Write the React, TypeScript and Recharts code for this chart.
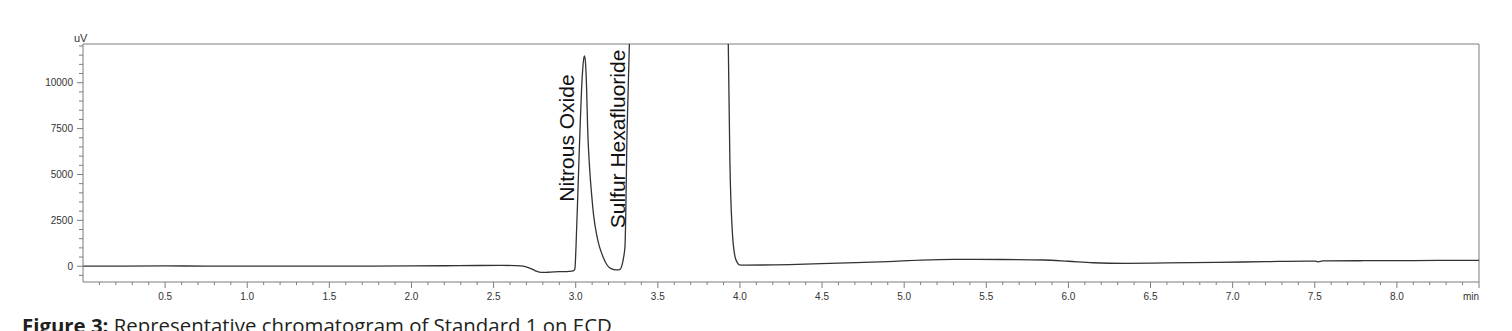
import React from "react";
import { LineChart, Line, XAxis, YAxis, ReferenceLine, ReferenceDot } from "recharts";

// Retention time (min) and detector signal (uV)
const TIME_MIN = [
  0, 0.25, 0.5, 0.75, 1.0, 1.25, 1.5, 1.75, 2.0, 2.2,
  2.4, 2.55, 2.63, 2.68, 2.72, 2.755, 2.79, 2.83, 2.9, 2.96,
  2.985, 2.995, 3.002, 3.015, 3.026, 3.036, 3.044, 3.052, 3.058, 3.066,
  3.073, 3.085, 3.097, 3.11, 3.128, 3.145, 3.168, 3.19, 3.215, 3.25,
  3.27, 3.283, 3.292, 3.3, 3.313, 3.327, 3.345, 3.5, 3.7, 3.9,
  3.92, 3.929, 3.939, 3.953, 3.97, 3.985, 3.996, 4.03, 4.3, 4.6,
  4.9, 5.1, 5.3, 5.6, 5.85, 6.0, 6.15, 6.35, 6.6, 6.9,
  7.2, 7.45, 7.5, 7.52, 7.55, 7.8, 8.1, 8.5,
];
const SIGNAL_UV = [
  0, 5, 15, 10, 10, 5, 10, 10, 15, 25,
  40, 45, 30, 0, -100, -250, -340, -330, -300, -280,
  -250, -150, 1100, 4500, 7420, 9700, 10900, 11460, 11250, 9800,
  7420, 5300, 3900, 2700, 1700, 1050, 480, 80, -130, -200,
  -170, 100, 500, 1070, 7420, 12200, 16000, 16000, 16000, 16000,
  16000, 12100, 5620, 1980, 520, 180, 70, 60, 90, 170,
  250, 330, 370, 365, 340, 270, 190, 160, 180, 210,
  250, 280, 280, 240, 290, 300, 310, 320,
];

const Y_DOMAIN: [number, number] = [-860, 12110];
const X_DOMAIN: [number, number] = [0, 8.5];
const Y_MAJOR_STEP = 2500;
const Y_TICKS = Array.from({ length: 26 }, (_, i) => -500 + i * 500);
const X_TICKS = Array.from({ length: 85 }, (_, i) => (i + 1) / 10);
const X_UNIT = "min";
const Y_UNIT = "uV";

const PEAK_NAMES = ["Nitrous Oxide", "Sulfur Hexafluoride"];
const PEAK_LABEL_T = [2.99, 3.3];
const PEAK_LABEL_V = [3520, 2070];

const CAPTION_BOLD = "Figure 3:";
const CAPTION_TEXT = " Representative chromatogram of Standard 1 on ECD";

const data = TIME_MIN.map((t, i) => ({ t, v: SIGNAL_UV[i] }));

const AXIS = "#7d7d7d";
const FONT = "'Liberation Sans', Arial, sans-serif";

const YTick = (props: any) => {
  const { x, y, payload } = props;
  const v = payload.value;
  const major = v % Y_MAJOR_STEP === 0;
  return (
    <g>
      <line x1={x - (major ? 6 : 4)} x2={x} y1={y} y2={y} stroke={AXIS} strokeWidth={1} />
      {major && (
        <text x={x - 10} y={y} dy="0.35em" textAnchor="end" fontSize={10} fill="#333" fontFamily={FONT}>
          {v}
        </text>
      )}
    </g>
  );
};

const XTick = (props: any) => {
  const { x, y, payload } = props;
  const v = payload.value;
  const tenths = Math.round(v * 10);
  const major = tenths % 5 === 0;
  const isLast = tenths === 85;
  return (
    <g>
      <line x1={x} x2={x} y1={y} y2={y + (major ? 6 : 3)} stroke={AXIS} strokeWidth={1} />
      {major && (
        <text
          x={x}
          y={y + 18}
          textAnchor={isLast ? "end" : "middle"}
          fontSize={10}
          fill="#333"
          fontFamily={FONT}
        >
          {isLast ? X_UNIT : v.toFixed(1)}
        </text>
      )}
    </g>
  );
};

const makePeakLabel = (name: string) => (props: any) => {
  const { cx, cy } = props;
  return (
    <text
      x={cx}
      y={cy}
      transform={`rotate(-90 ${cx} ${cy})`}
      textAnchor="start"
      fontSize={21}
      fill="#111"
      fontFamily={FONT}
    >
      {name}
    </text>
  );
};

export default function App() {
  return (
    <div
      style={{
        position: "fixed",
        left: 0,
        top: 0,
        width: 1512,
        height: 331,
        overflow: "hidden",
        background: "#fff",
      }}
    >
      <LineChart
        width={1512}
        height={331}
        data={data}
        margin={{ top: 44, right: 33, bottom: 19, left: 0 }}
      >
        <XAxis
          dataKey="t"
          type="number"
          domain={X_DOMAIN}
          ticks={X_TICKS}
          interval={0}
          height={30}
          tickSize={0}
          tickMargin={0}
          tickLine={false}
          tick={<XTick />}
          axisLine={{ stroke: AXIS }}
          allowDataOverflow
        />
        <YAxis
          type="number"
          domain={Y_DOMAIN}
          ticks={Y_TICKS}
          interval={0}
          width={83}
          tickSize={0}
          tickMargin={0}
          tickLine={false}
          tick={<YTick />}
          axisLine={{ stroke: AXIS }}
          allowDataOverflow
          label={{
            content: (p: any) => {
              const vb = p.viewBox || {};
              return (
                <text x={vb.x + vb.width - 9} y={vb.y - 2} fontSize={11} fill="#333" fontFamily={FONT}>
                  {Y_UNIT}
                </text>
              );
            },
          }}
        />
        <ReferenceLine y={Y_DOMAIN[1]} stroke={AXIS} ifOverflow="visible" />
        <ReferenceLine x={X_DOMAIN[1]} stroke={AXIS} ifOverflow="visible" />
        <Line
          type="monotone"
          dataKey="v"
          stroke="#333"
          strokeWidth={1.3}
          dot={false}
          activeDot={false}
          isAnimationActive={false}
        />
        {PEAK_NAMES.map((name, i) => (
          <ReferenceDot
            key={name}
            x={PEAK_LABEL_T[i]}
            y={PEAK_LABEL_V[i]}
            r={1}
            ifOverflow="visible"
            shape={makePeakLabel(name)}
          />
        ))}
      </LineChart>
      <div
        style={{
          position: "absolute",
          left: 22,
          top: 311,
          fontFamily: "'Open Sans', sans-serif",
          fontSize: 20.4,
          color: "#231f20",
          whiteSpace: "nowrap",
          lineHeight: "normal",
        }}
      >
        <b>{CAPTION_BOLD}</b>
        {CAPTION_TEXT}
      </div>
    </div>
  );
}
